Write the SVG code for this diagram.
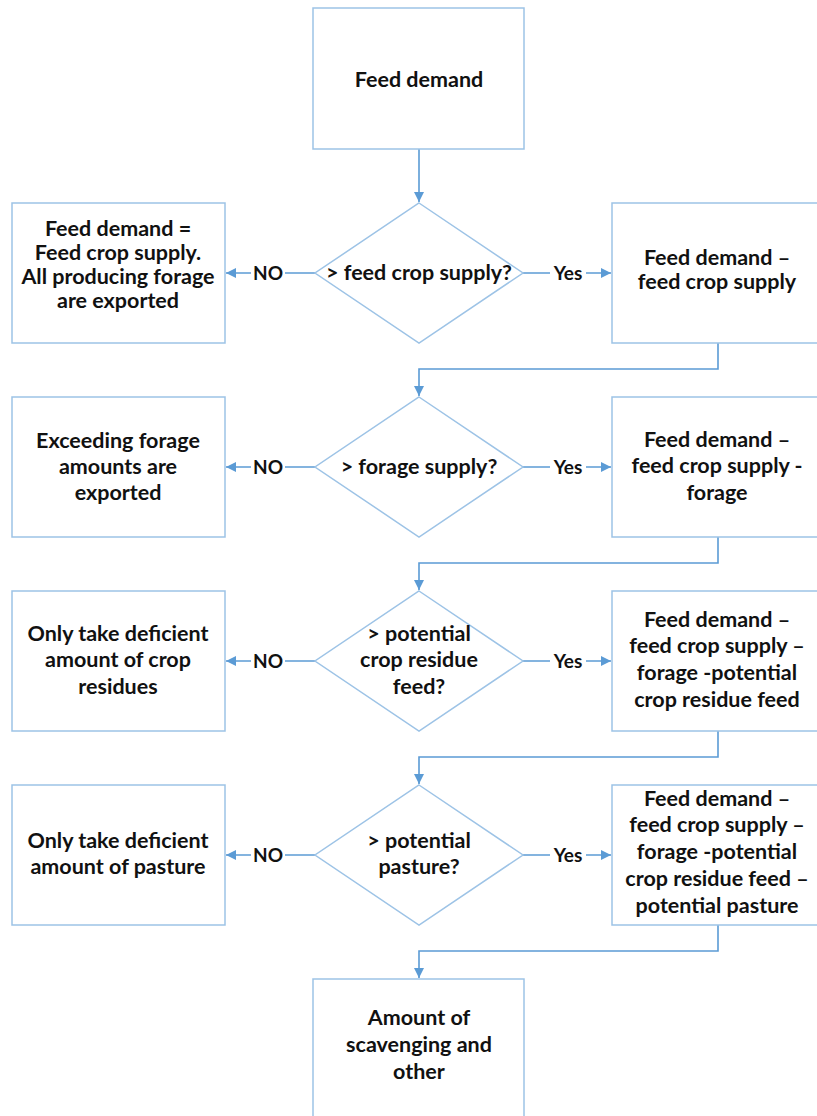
<svg xmlns="http://www.w3.org/2000/svg" width="817" height="1116" viewBox="0 0 817 1116">
<style>
.box{fill:#fff;stroke:#9DC3E6;stroke-width:1.5}
.t{font-family:Lato,"Liberation Sans",sans-serif;font-weight:700;font-size:21.5px;fill:#111;text-anchor:middle}
.s{font-size:19px}
.c{fill:none;stroke:#5B9BD5;stroke-width:1.6}
.lb{fill:#fff}
</style>
<defs>
<marker id="ah" viewBox="0 0 10 10" refX="10" refY="5" markerWidth="10" markerHeight="10" orient="auto" markerUnits="userSpaceOnUse">
<path d="M0,0 L10,5 L0,10 z" fill="#5B9BD5"/>
</marker>
</defs>
<rect width="817" height="1116" fill="#fff"/>

<g id="connectors">
<path class="c" d="M419,149 V202" marker-end="url(#ah)"/>
<path class="c" d="M315,273 H226" marker-end="url(#ah)"/>
<path class="c" d="M523,273 H611" marker-end="url(#ah)"/>
<path class="c" d="M718,343 V369 H419 V396" marker-end="url(#ah)"/>
<path class="c" d="M315,467 H226" marker-end="url(#ah)"/>
<path class="c" d="M523,467 H611" marker-end="url(#ah)"/>
<path class="c" d="M718,537 V563 H419 V590" marker-end="url(#ah)"/>
<path class="c" d="M315,661 H226" marker-end="url(#ah)"/>
<path class="c" d="M523,661 H611" marker-end="url(#ah)"/>
<path class="c" d="M718,731 V757 H419 V784" marker-end="url(#ah)"/>
<path class="c" d="M315,855 H226" marker-end="url(#ah)"/>
<path class="c" d="M523,855 H611" marker-end="url(#ah)"/>
<path class="c" d="M718,925 V951 H419 V978" marker-end="url(#ah)"/>
<g id="labels">
<rect class="lb" x="251" y="262" width="34" height="22"/><text class="t s" x="268" y="280">NO</text>
<rect class="lb" x="550" y="262" width="36" height="22"/><text class="t s" x="568" y="280">Yes</text>
<rect class="lb" x="251" y="456" width="34" height="22"/><text class="t s" x="268" y="474">NO</text>
<rect class="lb" x="550" y="456" width="36" height="22"/><text class="t s" x="568" y="474">Yes</text>
<rect class="lb" x="251" y="650" width="34" height="22"/><text class="t s" x="268" y="668">NO</text>
<rect class="lb" x="550" y="650" width="36" height="22"/><text class="t s" x="568" y="668">Yes</text>
<rect class="lb" x="251" y="844" width="34" height="22"/><text class="t s" x="268" y="862">NO</text>
<rect class="lb" x="550" y="844" width="36" height="22"/><text class="t s" x="568" y="862">Yes</text>
</g>
</g>

<g id="start">
<rect class="box" x="313" y="8" width="211" height="141"/>
<text class="t" x="419" y="87">Feed demand</text>
</g>

<g id="d1">
<path class="box" d="M419,203 L523,273 L419,343 L315,273 z"/>
<text class="t" x="419" y="280">&gt; feed crop supply?</text>
</g>
<g id="no1">
<rect class="box" x="12" y="203" width="213" height="140"/>
<text class="t" x="118" y="236">Feed demand =</text>
<text class="t" x="118" y="260">Feed crop supply.</text>
<text class="t" x="118" y="284">All producing forage</text>
<text class="t" x="118" y="308">are exported</text>
</g>
<g id="yes1">
<rect class="box" x="612" y="203" width="211" height="140"/>
<text class="t" x="717" y="265">Feed demand –</text>
<text class="t" x="717" y="289">feed crop supply</text>
</g>

<g id="d2">
<path class="box" d="M419,397 L523,467 L419,537 L315,467 z"/>
<text class="t" x="419" y="474">&gt; forage supply?</text>
</g>
<g id="no2">
<rect class="box" x="12" y="397" width="213" height="140"/>
<text class="t" x="118" y="448">Exceeding forage</text>
<text class="t" x="118" y="474">amounts are</text>
<text class="t" x="118" y="500">exported</text>
</g>
<g id="yes2">
<rect class="box" x="612" y="397" width="211" height="140"/>
<text class="t" x="717" y="447">Feed demand –</text>
<text class="t" x="717" y="473">feed crop supply -</text>
<text class="t" x="717" y="500">forage</text>
</g>

<g id="d3">
<path class="box" d="M419,591 L523,661 L419,731 L315,661 z"/>
<text class="t" x="419" y="641">&gt; potential</text>
<text class="t" x="419" y="667">crop residue</text>
<text class="t" x="419" y="694">feed?</text>
</g>
<g id="no3">
<rect class="box" x="12" y="591" width="213" height="140"/>
<text class="t" x="118" y="641">Only take deficient</text>
<text class="t" x="118" y="667">amount of crop</text>
<text class="t" x="118" y="694">residues</text>
</g>
<g id="yes3">
<rect class="box" x="612" y="591" width="211" height="140"/>
<text class="t" x="717" y="627">Feed demand –</text>
<text class="t" x="717" y="653">feed crop supply –</text>
<text class="t" x="717" y="680">forage -potential</text>
<text class="t" x="717" y="707">crop residue feed</text>
</g>

<g id="d4">
<path class="box" d="M419,785 L523,855 L419,925 L315,855 z"/>
<text class="t" x="419" y="848">&gt; potential</text>
<text class="t" x="419" y="874">pasture?</text>
</g>
<g id="no4">
<rect class="box" x="12" y="785" width="213" height="140"/>
<text class="t" x="118" y="848">Only take deficient</text>
<text class="t" x="118" y="874">amount of pasture</text>
</g>
<g id="yes4">
<rect class="box" x="612" y="785" width="211" height="140"/>
<text class="t" x="717" y="806">Feed demand –</text>
<text class="t" x="717" y="832">feed crop supply –</text>
<text class="t" x="717" y="859">forage -potential</text>
<text class="t" x="717" y="886">crop residue feed –</text>
<text class="t" x="717" y="913">potential pasture</text>
</g>

<g id="end">
<rect class="box" x="313" y="979" width="211" height="145"/>
<text class="t" x="419" y="1025">Amount of</text>
<text class="t" x="419" y="1052">scavenging and</text>
<text class="t" x="419" y="1079">other</text>
</g>
</svg>
